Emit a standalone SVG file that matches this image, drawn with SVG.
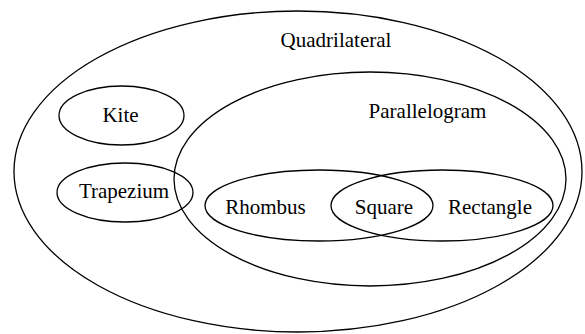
<svg xmlns="http://www.w3.org/2000/svg" width="585" height="334" viewBox="0 0 585 334">
<style>
.s{fill:none;stroke:#000;stroke-width:1.3}
.t{font-family:"Liberation Serif","Times New Roman",serif;font-size:21px;fill:#000;text-anchor:middle}
</style>
<rect width="585" height="334" fill="#fff"/>
<g id="quadrilateral">
<ellipse class="s" cx="298" cy="171.5" rx="284" ry="160.5"/>
<text class="t" x="336" y="47">Quadrilateral</text>
</g>
<g id="kite">
<ellipse class="s" cx="121.5" cy="115.5" rx="62.5" ry="29.5"/>
<text class="t" x="120.5" y="122">Kite</text>
</g>
<g id="trapezium">
<ellipse class="s" cx="125" cy="192.5" rx="68" ry="29.5"/>
<text class="t" x="124" y="198">Trapezium</text>
</g>
<g id="parallelogram">
<ellipse class="s" cx="370" cy="179" rx="196" ry="107"/>
<text class="t" x="427.5" y="118">Parallelogram</text>
</g>
<g id="rhombus">
<ellipse class="s" cx="319" cy="205.5" rx="114" ry="35.5"/>
<text class="t" x="265.5" y="214">Rhombus</text>
</g>
<g id="rectangle">
<ellipse class="s" cx="442" cy="205.5" rx="111" ry="35.5"/>
<text class="t" x="490" y="214">Rectangle</text>
</g>
<g id="square">
<text class="t" x="384" y="214">Square</text>
</g>
<g id="connectors"></g>
</svg>
